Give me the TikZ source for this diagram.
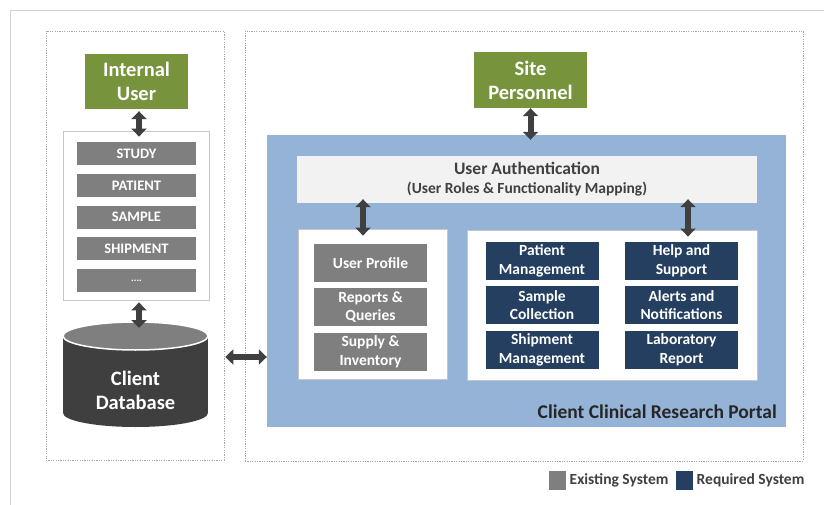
\documentclass[tikz,border=0pt]{standalone}
\usepackage{fontspec}
\setmainfont{Carlito}
\usetikzlibrary{arrows.meta,positioning}

\definecolor{usergreen}{HTML}{77933C}
\definecolor{exgrey}{HTML}{7F7F7F}
\definecolor{reqblue}{HTML}{243F60}
\definecolor{portalblue}{HTML}{95B3D7}
\definecolor{authgrey}{HTML}{F2F2F2}
\definecolor{arrowgrey}{HTML}{404040}
\definecolor{dbbody}{HTML}{3F3F3F}
\definecolor{zonegrey}{HTML}{A6A6A6}
\definecolor{titlegrey}{HTML}{262626}

\tikzset{
  zone/.style={draw=zonegrey, line width=0.6pt, dash pattern=on 1.2pt off 1.2pt, inner sep=0pt},
  userbox/.style={fill=usergreen, text=white, inner sep=0pt, align=center,
    font=\fontsize{20.5}{24}\selectfont\bfseries},
  listbox/.style={fill=white, draw=gray!45, line width=0.8pt, inner sep=0pt},
  tablebox/.style={fill=exgrey, text=white, inner sep=0pt, minimum width=119pt, minimum height=23pt,
    font=\fontsize{14.5}{16}\selectfont\bfseries},
  exbox/.style={fill=exgrey, text=white, inner sep=0pt, align=center, minimum width=113pt, minimum height=38pt,
    font=\fontsize{15.5}{18.5}\selectfont\bfseries},
  reqbox/.style={fill=reqblue, text=white, inner sep=0pt, align=center, minimum width=113pt, minimum height=38pt,
    font=\fontsize{15.5}{18.5}\selectfont\bfseries},
  dbl/.style={{Triangle[width=15pt,length=8pt]}-{Triangle[width=15pt,length=8pt]}, line width=6pt, draw=arrowgrey},
  legtext/.style={anchor=west, inner sep=0pt, text=arrowgrey, font=\fontsize{15.5}{17}\selectfont\bfseries}
}

\begin{document}
\begin{tikzpicture}[x=1pt, y=-1pt]
  \useasboundingbox (0,0) rectangle (824,505);
  \fill[white] (0,0) rectangle (824,505);
  \draw[gray!35, line width=1pt] (824,11) -- (10,11) -- (10,505);

  % the two zones
  \node[zone, minimum width=178pt, minimum height=429pt] (leftzone) at (135,245.5) {};
  \node[zone, minimum width=558pt, minimum height=430pt] (rightzone) at (524,246) {};

  % left side: internal user, tables, database
  \node[userbox, minimum width=103pt, minimum height=55pt] (iuser) at (136.5,81.5) {Internal\\User};
  \node[listbox, minimum width=146pt, minimum height=169pt] (list) at (136,215.5) {};
  \foreach \name/\txt/\y in {study/STUDY/153.5, patient/PATIENT/185.5, sample/SAMPLE/217,
      shipment/SHIPMENT/248.5}
    \node[tablebox] (\name) at (136.5,\y) {\txt};
  \node[tablebox] (more) at (136.5,280.5) {\fontsize{10}{12}\selectfont ....};

  \fill[dbbody] (63,336) rectangle (208,413);
  \fill[dbbody] (135.5,413) ellipse (72.5pt and 14pt);
  \filldraw[fill=exgrey, draw=white, line width=1.5pt] (135.5,336) ellipse (72.5pt and 14pt);
  \node[text=white, align=center, font=\fontsize{20.5}{24}\selectfont\bfseries] (db) at (135.5,390) {Client\\Database};
  \coordinate (dbtop) at (135.5,322);

  % right side: portal
  \node[fill=portalblue, minimum width=519pt, minimum height=292pt, inner sep=0pt] (portal) at (526.5,281) {};
  \node[userbox, minimum width=113pt, minimum height=56pt] (site) at (530.5,80) {Site\\Personnel};
  \node[fill=authgrey, text=arrowgrey, align=center, minimum width=460pt, minimum height=47pt, inner sep=0pt,
    font=\fontsize{15.5}{19}\selectfont\bfseries] (auth) at (527,179.5)
    {{\fontsize{17.5}{19}\selectfont User Authentication}\\(User Roles \& Functionality Mapping)};

  \node[listbox, minimum width=149pt, minimum height=150pt] (lbox) at (372.5,304) {};
  \node[exbox] (profile) at (370.5,263) {User Profile};
  \node[exbox] (reports) at (370.5,307) {Reports \&\\Queries};
  \node[exbox] (supply) at (370.5,352) {Supply \&\\Inventory};

  \node[listbox, minimum width=290pt, minimum height=150pt] (rbox) at (612,305) {};
  \node[reqbox] (patmgmt) at (542,261) {Patient\\Management};
  \node[reqbox] (samcoll) at (542,305) {Sample\\Collection};
  \node[reqbox] (shipmgmt) at (542,350) {Shipment\\Management};
  \node[reqbox] (help) at (681.5,261) {Help and\\Support};
  \node[reqbox] (alerts) at (681.5,305) {Alerts and\\Notifications};
  \node[reqbox] (labrep) at (681.5,350) {Laboratory\\Report};

  \node[anchor=east, inner sep=0pt, text=titlegrey, font=\fontsize{19.5}{22}\selectfont\bfseries] (title)
    at (777,412) {Client Clinical Research Portal};

  % connectors
  \draw[dbl, shorten <=2pt, shorten >=-6pt] ([xshift=2.5pt]iuser.south) -- ([xshift=3pt]list.north);
  \draw[dbl, shorten <=2pt, shorten >=-6pt] ([xshift=3pt]list.south) -- ([xshift=3.5pt]dbtop);
  \coordinate (link) at (0,357);
  \draw[dbl, shorten <=1pt] (leftzone.east |- link) -- (portal.west |- link);
  \draw[dbl, shorten >=-5pt] (site.south) -- (site.south |- portal.north);
  \draw[dbl, shorten <=-4pt, shorten >=-7pt] ([xshift=-9.5pt]lbox.north |- auth.south) -- ([xshift=-9.5pt]lbox.north);
  \draw[dbl, shorten <=-4pt, shorten >=-7pt] ([xshift=6.5pt]help.north |- auth.south) -- ([xshift=6.5pt]help.north |- rbox.north);

  % legend
  \node[fill=exgrey, minimum width=17pt, minimum height=19pt, inner sep=0pt] (legex) at (557.5,480.5) {};
  \node[legtext] (legextxt) at (569.5,480) {Existing System};
  \node[fill=reqblue, minimum width=17pt, minimum height=19pt, inner sep=0pt] (legreq) at (684.5,480.5) {};
  \node[legtext] (legreqtxt) at (696.5,480) {Required System};
\end{tikzpicture}
\end{document}
